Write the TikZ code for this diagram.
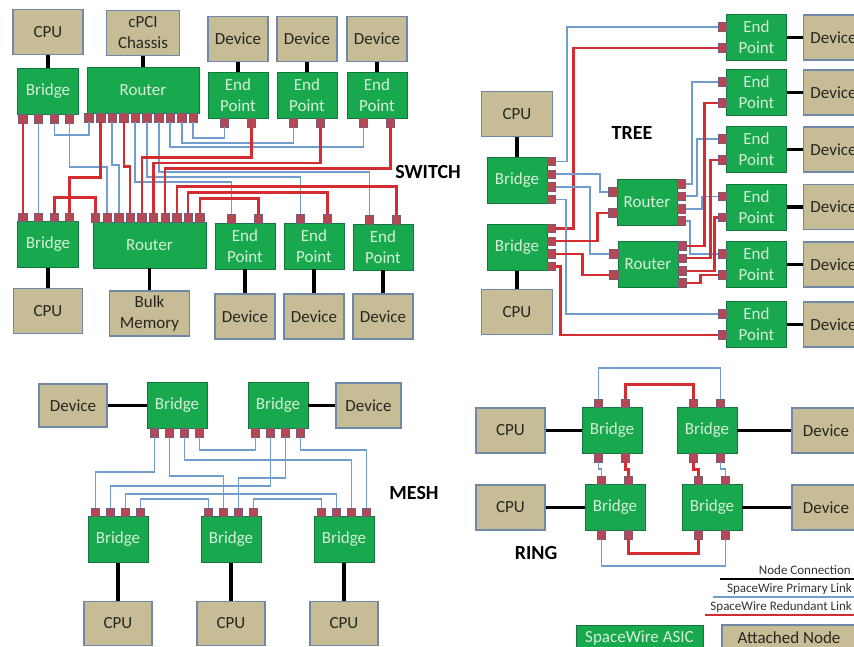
\documentclass[tikz,border=0pt]{standalone}
\usepackage{fontspec}
\setmainfont{Carlito}
\usepackage{xcolor}
\usepackage{tikz}
\usetikzlibrary{positioning}

\definecolor{asicfill}{RGB}{24,168,78}
\definecolor{asicline}{RGB}{20,118,62}
\definecolor{asictext}{RGB}{214,240,214}
\definecolor{nodefill}{RGB}{198,188,150}
\definecolor{nodeline}{RGB}{112,136,168}
\definecolor{nodetext}{RGB}{40,38,34}
\definecolor{portfill}{RGB}{182,72,84}
\definecolor{portline}{RGB}{118,92,122}
\definecolor{primlink}{RGB}{112,156,206}
\definecolor{rdnlink}{RGB}{212,44,48}

\newcommand\boxfont{\fontsize{17}{21}\selectfont}
\newcommand\topofont{\fontsize{20}{24}\selectfont\bfseries}
\newcommand\legfont{\fontsize{13}{15}\selectfont}

\begin{document}
\begin{tikzpicture}[
  x=1pt, y=-1pt,
  asic/.style={draw=asicline, fill=asicfill, text=asictext, line width=0.8pt,
               minimum width=60pt, minimum height=46pt, inner sep=0pt,
               align=center, font=\boxfont},
  attached/.style={draw=nodeline, fill=nodefill, text=nodetext, line width=1.2pt,
                   minimum width=60pt, minimum height=45pt, inner sep=0pt,
                   align=center, font=\boxfont},
  port/.style={draw=portline, fill=portfill, line width=0.6pt,
               minimum size=8.5pt, inner sep=0pt},
  prim/.style={draw=primlink, line width=1.9pt},
  rdn/.style={draw=rdnlink, line width=2.3pt},
  conn/.style={draw=black, line width=3.2pt},
  topo/.style={font=\topofont, text=black},
  leg/.style={font=\legfont, text=black!80, inner sep=0pt}
]
\path[use as bounding box, fill=white] (0,0) rectangle (854,646);

% switch
\node[asic, minimum width=61pt]  (sBrA) at (48,91.5)  {Bridge};
\node[asic, minimum width=112pt] (sRtA) at (143,90.5) {Router};
\node[asic] (sEpA) at (238,95.5) {End\\Point};
\node[asic] (sEpB) at (307,95.5) {End\\Point};
\node[asic] (sEpC) at (377,95.5) {End\\Point};
\node[attached, minimum width=70pt, above=13pt of sBrA] (sCpuA)    {CPU};
\node[attached, minimum width=73pt, above=11pt of sRtA] (sChassis) {cPCI\\Chassis};
\node[attached, above=10pt of sEpA] (sDevA) {Device};
\node[attached, above=10pt of sEpB] (sDevB) {Device};
\node[attached, above=10pt of sEpC] (sDevC) {Device};

\node[asic, minimum width=61pt]  (sBrB) at (48,244.5)  {Bridge};
\node[asic, minimum width=113pt] (sRtB) at (149.5,245) {Router};
\node[asic] (sEpD) at (245,246) {End\\Point};
\node[asic] (sEpE) at (314,246) {End\\Point};
\node[asic] (sEpF) at (383,247) {End\\Point};
\node[attached, minimum width=69pt, below=20pt of sBrB] (sCpuB) {CPU};
\node[attached, minimum width=80pt, below=22pt of sRtB] (sMem)  {Bulk\\Memory};
\node[attached, below=24pt of sEpD] (sDevD) {Device};
\node[attached, below=24pt of sEpE] (sDevE) {Device};
\node[attached, below=23pt of sEpF] (sDevF) {Device};

\foreach \dx [count=\i] in {-25,-9.5,6.5,21.5} {
  \node[port] (sba\i) at ([xshift=\dx pt,yshift=-4pt]sBrA.south) {};
  \node[port] (sbb\i) at ([xshift=\dx pt,yshift=4pt]sBrB.north) {};
}
\foreach \i in {1,...,10} {
  \node[port] (sra\i) at ([xshift={-54+11.6*(\i-1)},yshift=-4pt]sRtA.south) {};
  \node[port] (srb\i) at ([xshift={-54+11.6*(\i-1)},yshift=4pt]sRtB.north) {};
}
\foreach \e/\n in {sEpA/sea,sEpB/seb,sEpC/sec} {
  \node[port] (\n1) at ([xshift=-13.5pt,yshift=-4pt]\e.south) {};
  \node[port] (\n2) at ([xshift=13.5pt,yshift=-4pt]\e.south) {};
}
\foreach \e/\n in {sEpD/sed,sEpE/see,sEpF/sef} {
  \node[port] (\n1) at ([xshift=-13.5pt,yshift=4pt]\e.north) {};
  \node[port] (\n2) at ([xshift=13.5pt,yshift=4pt]\e.north) {};
}

\draw[conn] (sCpuA) -- (sBrA);
\draw[conn] (sChassis) -- (sRtA);
\draw[conn] (sDevA) -- (sEpA);
\draw[conn] (sDevB) -- (sEpB);
\draw[conn] (sDevC) -- (sEpC);
\draw[conn] (sBrB) -- (sCpuB);
\draw[conn] (sRtB) -- (sMem);
\draw[conn] (sEpD) -- (sDevD);
\draw[conn] (sEpE) -- (sDevE);
\draw[conn] (sEpF) -- (sDevF);

\draw[rdn]  (sba1) -- (sbb1);
\draw[prim] (sba2) -- (sbb2);
\draw[prim] (sba3) -- ++(0,16.5) -| (sra1);
\draw[prim] (sba4) -- ++(0,48.5) -| (srb2);
\draw[rdn]  (sra2) -- ++(0,59.5) -| (sbb4);
\draw[rdn]  (srb1) -- ++(0,-20) -| (sbb3);
\draw[prim] (sra3) -- ++(0,47.5) -| (srb3);
\draw[rdn]  (sra4) -- ++(0,48.5) -| (srb4);
\draw[prim] (sra5) -- ++(0,64.5) -| (sed1);
\draw[prim] (sra6) -- ++(0,59.5) -| (see1);
\draw[prim] (sra7) -- ++(0,54.5) -| (sef1);
\draw[prim] (sra8) -- ++(0,29.5) -| (sec1);
\draw[prim] (sra9) -- ++(0,25) -| (seb1);
\draw[prim] (sra10) -- ++(0,20.5) -| (sea1);
\draw[rdn]  (sea2) -- ++(0,34.5) -| (srb5);
\draw[rdn]  (seb2) -- ++(0,40) -| (srb6);
\draw[rdn]  (sec2) -- ++(0,45.5) -| (srb7);
\draw[rdn]  (srb8) -- ++(0,-31) -| (sef2);
\draw[rdn]  (srb9) -- ++(0,-25) -| (see2);
\draw[rdn]  (srb10) -- ++(0,-19) -| (sed2);

\node[topo] (lblSwitch) at (428,172) {SWITCH};

% tree
\node[asic] (tBrA) at (517,180.5) {Bridge};
\node[asic] (tBrB) at (517,247.5) {Bridge};
\node[attached, minimum width=71pt, above=20pt of tBrA] (tCpuA) {CPU};
\node[attached, minimum width=71pt, below=18pt of tBrB] (tCpuB) {CPU};
\node[asic] (tRtA) at (647,202.5) {Router};
\node[asic] (tRtB) at (648,264.5) {Router};
\foreach \y [count=\i] in {37.5,92.5,149.5,207,264.5,324.5} {
  \node[asic] (tEp\i) at (756.5,\y) {End\\Point};
  \node[attached, right=16pt of tEp\i] (tDev\i) {Device};
  \node[port] (teA\i) at ([xshift=-4pt,yshift=10.5pt]tEp\i.west) {};
  \node[port] (teB\i) at ([xshift=-4pt,yshift=-10.5pt]tEp\i.west) {};
  \draw[conn] (tEp\i) -- (tDev\i);
}
\foreach \dy [count=\i] in {19,6.3,-6.3,-19} {
  \node[port] (tba\i) at ([xshift=4pt,yshift=\dy pt]tBrA.east) {};
  \node[port] (tbb\i) at ([xshift=4pt,yshift=\dy pt]tBrB.east) {};
}
\foreach \dy [count=\i] in {18.5,6.2,-6.2,-18.5} {
  \node[port] (trr\i) at ([xshift=4pt,yshift=\dy pt]tRtA.east) {};
  \node[port] (tsr\i) at ([xshift=4pt,yshift=\dy pt]tRtB.east) {};
}
\node[port] (tra1) at ([xshift=-4pt,yshift=10.5pt]tRtA.west) {};
\node[port] (tra2) at ([xshift=-4pt,yshift=-10.5pt]tRtA.west) {};
\node[port] (trb1) at ([xshift=-4pt,yshift=10.5pt]tRtB.west) {};
\node[port] (trb2) at ([xshift=-4pt,yshift=-10.5pt]tRtB.west) {};

\draw[conn] (tCpuA) -- (tBrA);
\draw[conn] (tBrB) -- (tCpuB);

\draw[prim] (tba1) -- ++(16,0) |- (teA1);
\draw[rdn]  (tbb1) -- ++(22,0) |- (teB1);
\draw[prim] (tba2) -- ++(49,0) |- (tra1);
\draw[prim] (tba3) -- ++(39,0) |- (trb1);
\draw[prim] (tba4) -- ++(15,0) |- (teA6);
\draw[rdn]  (tbb2) -- ++(46,0) |- (tra2);
\draw[rdn]  (tbb3) -- ++(31,0) |- (trb2);
\draw[rdn]  (tbb4) -- ++(9,0) |- (teB6);
\draw[prim] (trr1) -- ++(11,0) |- (teA2);
\draw[prim] (trr2) -- ++(16,0) |- (teA3);
\draw[prim] (trr3) -- ++(21,0) |- (teA4);
\draw[prim] (trr4) -- ++(9,0) |- (teA5);
\draw[rdn]  (tsr1) -- ++(22,0) |- (teB2);
\draw[rdn]  (tsr2) -- ++(28,0) |- (teB3);
\draw[rdn]  (tsr3) -- ++(32,0) |- (teB4);
\draw[rdn]  (tsr4) -- ++(18,0) |- (teB5);

\node[topo] (lblTree) at (632,133) {TREE};

% mesh
\node[asic] (mBrA) at (177,405.5) {Bridge};
\node[asic] (mBrB) at (278,405.5) {Bridge};
\node[attached, minimum width=68pt, minimum height=43pt, left=39pt of mBrA] (mDevA) {Device};
\node[attached, minimum width=65pt, right=27pt of mBrB] (mDevB) {Device};
\node[asic] (mBrC) at (118,539.5) {Bridge};
\node[asic] (mBrD) at (231,539.5) {Bridge};
\node[asic] (mBrE) at (344,539.5) {Bridge};
\node[attached, minimum width=68pt, minimum height=44pt, below=38pt of mBrC] (mCpuA) {CPU};
\node[attached, minimum width=68pt, minimum height=44pt, below=38pt of mBrD] (mCpuB) {CPU};
\node[attached, minimum width=68pt, minimum height=44pt, below=38pt of mBrE] (mCpuC) {CPU};
\foreach \dx [count=\i] in {-22.5,-7.5,7.5,22.5} {
  \node[port] (mpa\i) at ([xshift=\dx pt,yshift=-4pt]mBrA.south) {};
  \node[port] (mpb\i) at ([xshift=\dx pt,yshift=-4pt]mBrB.south) {};
  \node[port] (mpc\i) at ([xshift=\dx pt,yshift=4pt]mBrC.north) {};
  \node[port] (mpd\i) at ([xshift=\dx pt,yshift=4pt]mBrD.north) {};
  \node[port] (mpe\i) at ([xshift=\dx pt,yshift=4pt]mBrE.north) {};
}

\draw[conn] (mDevA) -- (mBrA);
\draw[conn] (mBrB) -- (mDevB);
\draw[conn] (mBrC) -- (mCpuA);
\draw[conn] (mBrD) -- (mCpuB);
\draw[conn] (mBrE) -- (mCpuC);

\draw[prim] (mpa1) -- ++(0,39.5) -| (mpc1);
\draw[prim] (mpa2) -- ++(0,43.5) -| (mpd2);
\draw[prim] (mpa3) -- ++(0,27.5) -| (mpe3);
\draw[prim] (mpa4) -- ++(0,17.5) -| (mpb1);
\draw[prim] (mpb2) -- ++(0,53.5) -| (mpc2);
\draw[prim] (mpb3) -- ++(0,45.5) -| (mpd3);
\draw[prim] (mpb4) -- ++(0,17.5) -| (mpe4);
\draw[prim] (mpc3) -- ++(0,-18.5) -| (mpe2);
\draw[prim] (mpc4) -- ++(0,-13.5) -| (mpd1);
\draw[prim] (mpd4) -- ++(0,-13.5) -| (mpe1);

\node[topo] (lblMesh) at (414,493) {MESH};

% ring
\node[asic] (rBrA) at (612,430.5) {Bridge};
\node[asic] (rBrB) at (707,430.5) {Bridge};
\node[asic] (rBrC) at (615,507.5) {Bridge};
\node[asic] (rBrD) at (712,507.5) {Bridge};
\node[attached, minimum width=69pt, left=36pt of rBrA]  (rCpuA) {CPU};
\node[attached, minimum width=68pt, right=54pt of rBrB] (rDevA) {Device};
\node[attached, minimum width=69pt, left=39pt of rBrC]  (rCpuB) {CPU};
\node[attached, minimum width=68pt, right=49pt of rBrD] (rDevB) {Device};
\foreach \b in {A,B,C,D} {
  \node[port] (r\b t1) at ([xshift=-13.5pt,yshift=4pt]rBr\b.north) {};
  \node[port] (r\b t2) at ([xshift=13.5pt,yshift=4pt]rBr\b.north) {};
  \node[port] (r\b b1) at ([xshift=-13.5pt,yshift=-4pt]rBr\b.south) {};
  \node[port] (r\b b2) at ([xshift=13.5pt,yshift=-4pt]rBr\b.south) {};
}

\draw[conn] (rCpuA) -- (rBrA);
\draw[conn] (rBrB) -- (rDevA);
\draw[conn] (rCpuB) -- (rBrC);
\draw[conn] (rBrD) -- (rDevB);

\draw[prim] (rAt1) -- ++(0,-35.5) -| (rBt2);
\draw[rdn]  (rAt2) -- ++(0,-18.5) -| (rBt1);
\draw[prim] (rAb1) -- ++(0,11.5) -| (rCt1);
\draw[rdn]  (rAb2) -- ++(0,11.5) -| (rCt2);
\draw[rdn]  (rBb1) -- ++(0,11.5) -| (rDt1);
\draw[prim] (rBb2) -- ++(0,11.5) -| (rDt2);
\draw[rdn]  (rCb2) -- ++(0,18.5) -| (rDb1);
\draw[prim] (rCb1) -- ++(0,31.5) -| (rDb2);

\node[topo] (lblRing) at (536,553) {RING};

% legend
\node[leg, anchor=base east] (lgConn) at (851,574) {Node Connection};
\node[leg, anchor=base east] (lgPrim) at (852,592) {SpaceWire Primary Link};
\node[leg, anchor=base east] (lgRdn)  at (852,610) {SpaceWire Redundant Link};
\coordinate (lcA) at (720,579);  \coordinate (lcB) at (856,579);
\coordinate (lpA) at (713,597);  \coordinate (lpB) at (856,597);
\coordinate (lrA) at (705,615);  \coordinate (lrB) at (856,615);
\draw[black, line width=2pt] (lcA) -- (lcB);
\draw[prim] (lpA) -- (lpB);
\draw[rdn]  (lrA) -- (lrB);
\node[asic, minimum width=127pt, minimum height=26pt] (lgAsic) at (639.5,638) {SpaceWire ASIC};
\node[attached, minimum width=134pt, minimum height=26pt] (lgNode) at (789,638) {Attached Node};
\end{tikzpicture}
\end{document}
